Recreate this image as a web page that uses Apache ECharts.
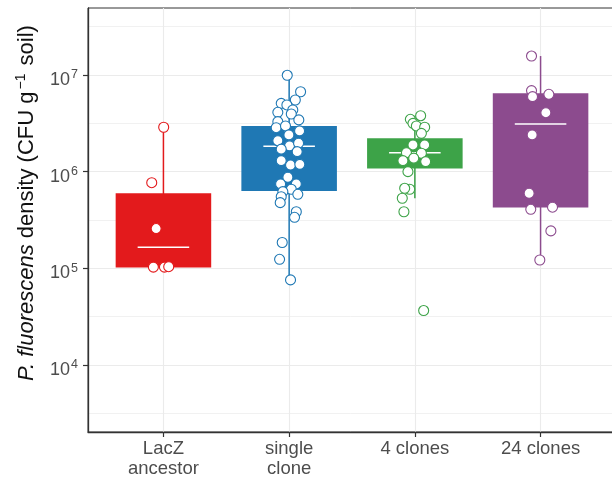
<!DOCTYPE html>
<html><head><meta charset="utf-8">
<script src="https://cdn.jsdelivr.net/npm/echarts@6/dist/echarts.min.js"></script>
<style>html,body{margin:0;padding:0;background:#fff}#c{width:612px;height:481px}</style>
</head><body><div id="c"></div>
<script>
// ---- data ----
const categories = ['LacZ\nancestor', 'single\nclone', '4 clones', '24 clones'];
const groupColors = ['#E31A1C', '#1F78B4', '#3DA348', '#8C4B8E'];
const yTickValues = [1e4, 1e5, 1e6, 1e7];
const yMinorGridValues = [3.162e3, 3.162e4, 3.162e5, 3.162e6, 3.162e7];
const xTickValues = [1, 2, 3, 4];

// box summaries (CFU g^-1 soil): whisker low, Q1, centre line, Q3, whisker high
const boxLow  = [1.02e5, 7.59e4, 5.31e5, 1.22e5];
const boxQ1   = [1.02e5, 6.31e5, 1.08e6, 4.25e5];
const boxMid  = [1.65e5, 1.83e6, 1.57e6, 3.11e6];
const boxQ3   = [5.98e5, 2.97e6, 2.21e6, 6.47e6];
const boxHigh = [2.88e6, 9.93e6, 3.79e6, 1.57e7];

// individual replicates (density) and their horizontal jitter (category units)
const lacZDensity = [2.88e6, 7.69e5, 2.58e5, 1.03e5, 1.03e5, 1.04e5];
const lacZJitter  = [0.002, -0.093, -0.058, -0.080, 0.008, 0.042];

const singleDensity = [9.93e6, 6.71e6, 5.51e6, 5.09e6, 4.90e6, 4.35e6, 4.11e6, 3.95e6, 3.43e6, 3.29e6,
  2.85e6, 2.97e6, 2.64e6, 2.40e6, 2.09e6, 1.85e6, 1.97e6, 1.71e6, 1.61e6, 1.30e6,
  1.17e6, 1.19e6, 8.75e5, 7.46e5, 7.46e5, 6.58e5, 6.21e5, 5.83e5, 5.51e5, 3.85e5,
  3.37e5, 4.78e5, 1.85e5, 1.24e5, 7.59e4];
const singleJitter = [-0.015, 0.091, 0.049, -0.063, -0.018, 0.029, -0.090, 0.017, 0.077, -0.090,
  -0.103, -0.029, 0.083, -0.002, -0.090, 0.003, 0.075, -0.063, 0.064, -0.063,
  0.011, 0.085, -0.010, -0.068, 0.057, 0.017, -0.050, 0.069, -0.063, 0.057,
  0.043, -0.071, -0.055, -0.076, 0.011];

const fourDensity = [3.79e6, 3.48e6, 3.16e6, 2.97e6, 2.88e6, 2.49e6, 1.89e6, 1.89e6, 1.57e6, 1.55e6,
  1.38e6, 1.30e6, 1.27e6, 1.00e6, 6.58e5, 6.73e5, 5.31e5, 3.85e5, 3.66e4];
const fourJitter = [0.046, -0.036, -0.015, 0.012, 0.078, 0.052, -0.015, 0.078, -0.067, 0.052,
  -0.009, -0.095, 0.086, -0.055, -0.041, -0.081, -0.100, -0.087, 0.070];

const twentyFourDensity = [1.57e7, 6.89e6, 5.97e6, 6.31e6, 4.07e6, 2.40e6, 5.98e5, 4.08e5, 4.29e5, 2.44e5, 1.22e5];
const twentyFourJitter  = [-0.072, -0.072, -0.064, 0.066, 0.042, -0.067, -0.091, -0.078, 0.095, 0.082, -0.006];

// ---- chart ----
const FONT = 'Liberation Sans';
const TXT = '#4D4D4D';
const pointGroups = [
  [lacZDensity, lacZJitter], [singleDensity, singleJitter],
  [fourDensity, fourJitter], [twentyFourDensity, twentyFourJitter]
];

const boxData = categories.map((c, i) => [i + 1, boxLow[i], boxQ1[i], boxMid[i], boxQ3[i], boxHigh[i]]);

const scatterSeries = pointGroups.map((g, i) => ({
  type: 'scatter',
  z: 5,
  symbol: 'circle',
  symbolSize: 10,
  silent: true,
  itemStyle: { color: '#fff', borderColor: groupColors[i], borderWidth: 1.1, opacity: 1 },
  data: g[0].map((v, k) => [i + 1 + g[1][k], v])
}));

const chart = echarts.init(document.getElementById('c'), null, { renderer: 'canvas' });
chart.setOption({
  animation: false,
  backgroundColor: '#fff',
  grid: { left: 88, right: -4, top: 8, bottom: 49, show: true, borderColor: '#333', borderWidth: 1, outerBoundsMode: 'none' },
  xAxis: {
    type: 'value', min: 0.4, max: 4.6,
    axisLine: { show: true, onZero: false, lineStyle: { color: '#333', width: 1.3 } },
    axisTick: { show: true, customValues: xTickValues, length: 5, lineStyle: { color: '#333', width: 1.2 } },
    axisLabel: { customValues: xTickValues, margin: 7, color: TXT, fontSize: 18.5, fontFamily: FONT, lineHeight: 20,
      formatter: v => categories[Math.round(v) - 1] },
    splitLine: { show: true, lineStyle: { color: '#EBEBEB', width: 1.1 } }
  },
  yAxis: [{
    type: 'log', logBase: 10, min: 2028, max: 4.93e7,
    axisLine: { show: true, onZero: false, lineStyle: { color: '#333', width: 1.3 } },
    axisTick: { show: true, customValues: yTickValues, length: 5, lineStyle: { color: '#333', width: 1.2 } },
    axisLabel: { customValues: yTickValues, margin: 10, color: TXT, fontFamily: FONT,
      formatter: v => '{b|10}{s|' + Math.round(Math.log10(v)) + '}',
      rich: {
        b: { fontSize: 18, lineHeight: 20, color: TXT, fontFamily: FONT, verticalAlign: 'bottom' },
        s: { fontSize: 12.5, lineHeight: 28, color: TXT, fontFamily: FONT, verticalAlign: 'middle', padding: [0, 0, 0, 1] }
      } },
    splitLine: { show: true, lineStyle: { color: '#EBEBEB', width: 1.1 } }
  }, {
    type: 'log', logBase: 10, min: 2028, max: 4.93e7,
    axisLine: { show: false }, axisLabel: { show: false },
    axisTick: { show: false, customValues: yMinorGridValues },
    splitLine: { show: true, lineStyle: { color: '#EDEDED', width: 0.8 } }
  }],
  graphic: [{
    type: 'text', x: 26, y: 203, rotation: Math.PI / 2, silent: true,
    style: {
      text: '{i|P. fluorescens}{n| density (CFU g}{s|−1}{n| soil)}',
      align: 'center', verticalAlign: 'middle', fill: '#111',
      fontSize: 22, fontFamily: FONT,
      rich: {
        i: { fontSize: 22, fontStyle: 'italic', fontFamily: FONT, fill: '#111', lineHeight: 24, verticalAlign: 'bottom' },
        n: { fontSize: 22, fontFamily: FONT, fill: '#111', lineHeight: 24, verticalAlign: 'bottom' },
        s: { fontSize: 14, fontFamily: FONT, fill: '#111', lineHeight: 14, verticalAlign: 'top', padding: [0, 2, 14, 2] }
      }
    }
  }],
  series: [{
    type: 'custom',
    z: 2,
    silent: true,
    data: boxData,
    encode: { x: 0, y: [1, 2, 3, 4, 5] },
    renderItem: (params, api) => {
      const i = api.value(0);
      const col = groupColors[params.dataIndex];
      const lo = api.coord([i, api.value(1)]);
      const q1 = api.coord([i, api.value(2)]);
      const md = api.coord([i, api.value(3)]);
      const q3 = api.coord([i, api.value(4)]);
      const hi = api.coord([i, api.value(5)]);
      const xc = lo[0];
      const hw = api.coord([i + 0.38, api.value(3)])[0] - xc;
      const hm = api.coord([i + 0.205, api.value(3)])[0] - xc;
      return {
        type: 'group',
        children: [
          { type: 'line', shape: { x1: xc, y1: lo[1], x2: xc, y2: hi[1] }, style: { stroke: col, lineWidth: 1.5 } },
          { type: 'rect', shape: { x: xc - hw, y: q3[1], width: 2 * hw, height: q1[1] - q3[1] }, style: { fill: col } },
          { type: 'line', shape: { x1: xc - hm, y1: md[1], x2: xc + hm, y2: md[1] }, style: { stroke: '#fff', lineWidth: 1.4 } }
        ]
      };
    }
  }].concat(scatterSeries)
});
</script>
</body></html>
